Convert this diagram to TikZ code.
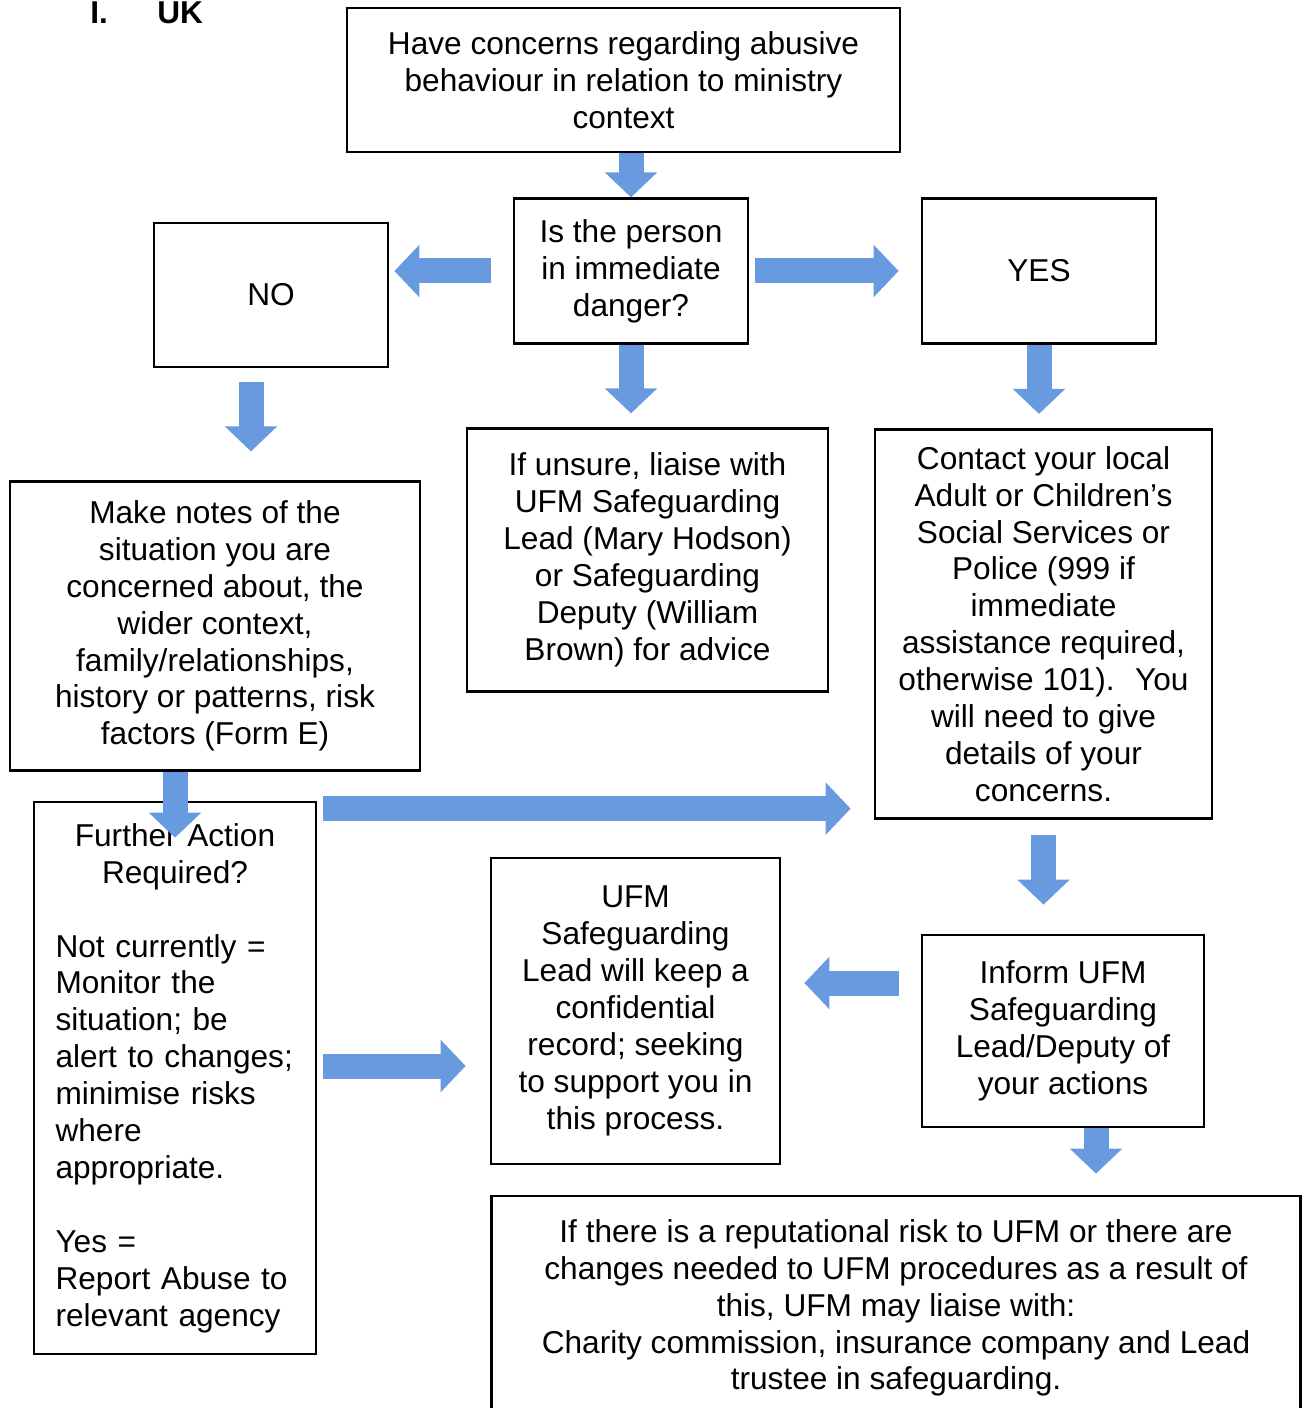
\documentclass[tikz,border=0pt]{standalone}
\usepackage{fontspec}
\setmainfont{Liberation Sans}
\usepackage{xcolor}
\usepackage{tikz}
\usetikzlibrary{arrows.meta, positioning, calc}
\definecolor{mydark}{RGB}{0,0,0}
\definecolor{myblue}{RGB}{104,154,224}
\tikzset{
  block/.style={rectangle, draw=mydark, fill=white, line width=1.6pt,
    align=center, inner sep=0pt, font=\fontsize{18}{21}\selectfont},
  arrow/.style={line width=0.5cm, draw=myblue,
    -{Triangle[width=1.02cm, length=0.5cm]}}
}
\begin{document}
\begin{tikzpicture}[x=0.02cm, y=-0.02cm]
  \useasboundingbox (0,0) rectangle (1306,1408);
  % heading
  \node[anchor=base west, inner sep=0pt, font=\fontsize{18}{21}\selectfont\bfseries] (title) at (90,24)
    {\makebox[1.34cm][l]{I.}UK};
  % top row
  \node[block, minimum width=11.06cm, minimum height=2.88cm] (concern) at (623.5,80)
    {Have concerns regarding abusive\\ behaviour in relation to ministry\\ context};
  \node[block, minimum width=4.68cm, minimum height=2.89cm] (danger) at (631,271)
    {Is the person\\ in immediate\\ danger?};
  \node[block, minimum width=4.68cm, minimum height=2.88cm] (no) at (271,295) {NO};
  \node[block, minimum width=4.68cm, minimum height=2.89cm] (yes) at (1039,271) {YES};
  % middle row
  \node[block, minimum width=7.22cm, minimum height=5.25cm] (unsure) at (647.5,560)
    {If unsure, liaise with\\ UFM Safeguarding\\ Lead (Mary Hodson)\\ or Safeguarding\\ Deputy (William\\ Brown) for advice};
  \node[block, minimum width=6.74cm, minimum height=7.79cm] (contact) at (1043.5,624)
    {Contact your local\\ Adult or Children’s\\ Social Services or\\ Police (999 if\\ immediate\\ assistance required,\\ otherwise 101). \ You\\ will need to give\\ details of your\\ concerns.};
  \node[block, minimum width=8.2cm, minimum height=5.77cm] (notes) at (215,626)
    {Make notes of the\\ situation you are\\ concerned about, the\\ wider context,\\ family/relationships,\\ history or patterns, risk\\ factors (Form E)};
  % lower row
  \node[block, align=left, text width=4.98cm, inner xsep=0.33cm, minimum height=11.04cm] (further) at (175,1078)
    {\parindent=0pt\centering Further Action\\ Required?\par
     \mbox{}\par
     \raggedright\hspace*{0.1cm}Not currently =\\ \hspace*{0.1cm}Monitor the\\ \hspace*{0.1cm}situation; be\\ \hspace*{0.1cm}alert to changes;\\ \hspace*{0.1cm}minimise risks\\ \hspace*{0.1cm}where\\ \hspace*{0.1cm}appropriate.\par
     \mbox{}\par
     \hspace*{0.1cm}Yes =\\ \hspace*{0.1cm}Report Abuse to\\ \hspace*{0.1cm}relevant agency\par};
  \node[block, minimum width=5.78cm, minimum height=6.12cm] (ufm) at (635.5,1011)
    {UFM\\ Safeguarding\\ Lead will keep a\\ confidential\\ record; seeking\\ to support you in\\ this process.};
  \node[block, minimum width=5.64cm, minimum height=3.84cm] (inform) at (1063,1031)
    {Inform UFM\\ Safeguarding\\ Lead/Deputy of\\ your actions};
  \node[block, minimum width=16.18cm, minimum height=4.48cm] (risk) at (896,1308)
    {If there is a reputational risk to UFM or there are\\ changes needed to UFM procedures as a result of\\ this, UFM may liaise with:\\ Charity commission, insurance company and Lead\\ trustee in safeguarding.};
  % block arrows
  \draw[arrow] (concern.south -| danger.north) -- (danger.north);
  \draw[arrow, shorten <=0.44cm, shorten >=0.1cm] (danger.west) -- (danger.west -| no.east);
  \draw[arrow, shorten <=0.12cm, shorten >=0.44cm] (danger.east) -- (yes.west);
  \draw[arrow, shorten >=0.28cm] (danger.south) -- (danger.south |- unsure.north);
  \draw[arrow, shorten >=0.28cm] (yes.south) -- (yes.south |- contact.north);
  \draw[arrow] ($(no.south)+(-20,14)$) -- ($(no.south |- notes.north)+(-20,-29)$);
  \draw[arrow] (notes.south -| further.north) -- ($(further.north)+(0,37)$);
  \draw[arrow] ($(further.north east)+(6,8)$) -- ($(further.north east -| contact.west)+(-23,8)$);
  \draw[arrow] ($(further.east)+(6,-12)$) -- ($(further.east -| ufm.west)+(-24,-12)$);
  \draw[arrow, shorten <=0.3cm, shorten >=0.58cm] (contact.south) -- (contact.south |- inform.north);
  \draw[arrow] ($(inform.west)+(-22,-48)$) -- ($(inform.west -| ufm.east)+(23,-48)$);
  \draw[arrow] ($(inform.south)+(33,0)$) -- ($(inform.south |- risk.north)+(33,-21)$);
\end{tikzpicture}
\end{document}
